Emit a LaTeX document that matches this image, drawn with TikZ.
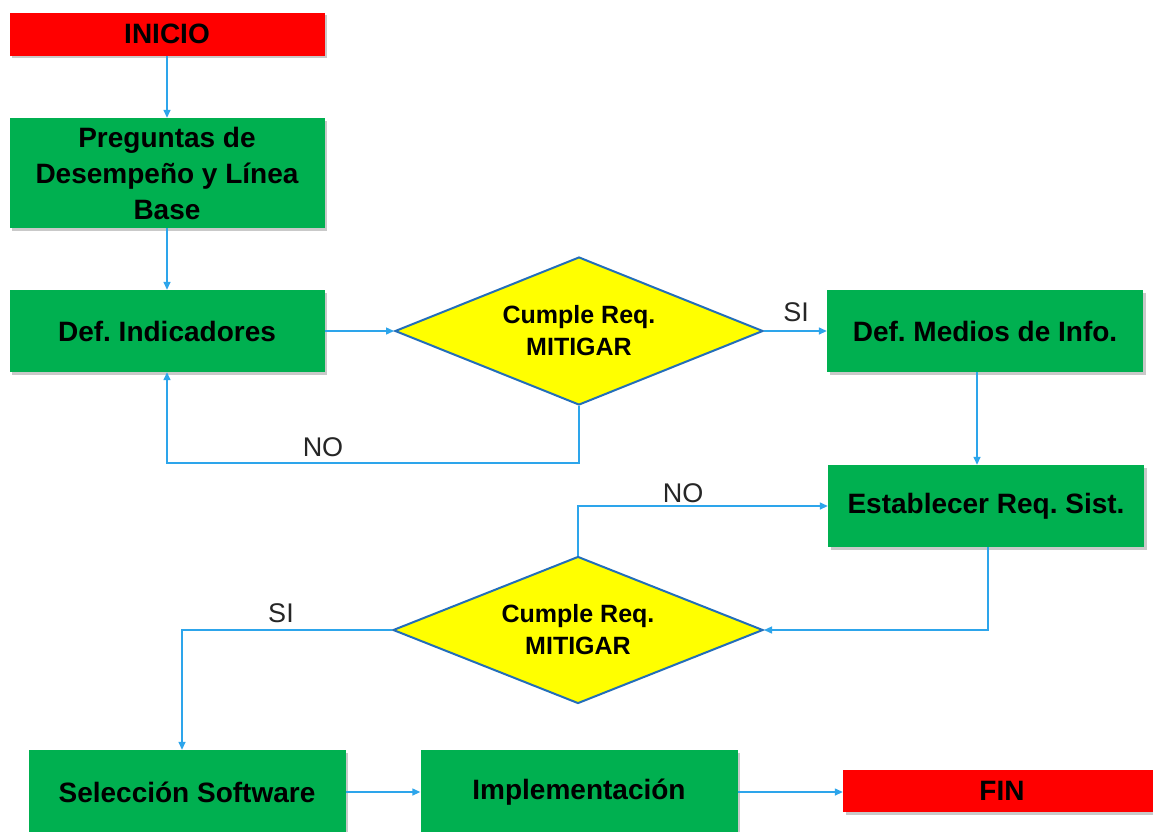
\documentclass[tikz,border=0pt]{standalone}
\usepackage{fontspec}
\setmainfont{Liberation Sans}
\usetikzlibrary{arrows.meta,shapes.geometric,shadows}
\frenchspacing

\definecolor{boxgreen}{RGB}{0,176,80}
\definecolor{boxred}{RGB}{255,0,0}
\definecolor{decyellow}{RGB}{255,255,0}
\definecolor{decborder}{RGB}{35,110,185}
\definecolor{linkblue}{RGB}{45,165,235}

\tikzset{
  procbox/.style={rectangle, fill=boxgreen, draw=none, inner sep=0pt,
    align=center, font=\fontsize{28}{36}\selectfont\bfseries,
    drop shadow={shadow xshift=2.5pt, shadow yshift=-2.5pt, opacity=0.35, fill=black!60}},
  termbox/.style={procbox, fill=boxred},
  decision/.style={diamond, aspect=2.5, fill=decyellow, draw=decborder, line width=2pt,
    inner sep=0pt, align=center, font=\fontsize{25}{32}\selectfont\bfseries},
  link/.style={draw=linkblue, line width=1.4pt,
    -{Triangle[length=8pt,width=7pt]}},
  tag/.style={font=\fontsize{27}{30}\selectfont, text=black!85}
}

\begin{document}
\begin{tikzpicture}[x=1pt,y=-1pt]
\clip (0,0) rectangle (1153,831);
\fill[white] (0,0) rectangle (1153,831);

% process steps and terminals
\node[termbox, minimum width=315pt, minimum height=43pt] (inicio) at (167,34) {INICIO};
\node[procbox, minimum width=315pt, minimum height=110pt] (preg) at (167,173)
  {Preguntas de\\Desempeño y Línea\\Base};
\node[procbox, minimum width=315pt, minimum height=82pt] (defind) at (167,331) {Def. Indicadores};
\node[decision, minimum width=368pt, minimum height=148pt] (d1) at (579,331) {Cumple Req.\\MITIGAR};
\node[procbox, minimum width=316pt, minimum height=82pt] (medios) at (985,331) {Def. Medios de Info.};
\node[procbox, minimum width=316pt, minimum height=82pt] (estab) at (986,506) {Establecer Req. Sist.};
\node[decision, minimum width=370pt, minimum height=147pt] (d2) at (578,630) {Cumple Req.\\MITIGAR};
\node[procbox, minimum width=317pt, minimum height=84pt] (selec) at (187,792) {Selección Software};
\node[procbox, minimum width=317pt, minimum height=84pt] (impl) at (579,792) {Implementación};
\node[termbox, minimum width=318pt, minimum height=42pt] (fin) at (1002,791) {FIN};

% connectors
\draw[link] (inicio.south) -- (preg.north);
\draw[link] (preg.south) -- (defind.north);
\draw[link] (defind.east) -- (d1.west);
\draw[link] (d1.south) -- ++(0,57) -| (defind.south);
\draw[link] (d1.east) -- (medios.west);
\draw[link] ([xshift=-8pt]medios.south) -- ([xshift=-9pt]estab.north);
\draw[link] ([xshift=2pt]estab.south) |- (d2.east);
\draw[link] (d2.north) |- (estab.west);
\draw[link] (d2.west) -| ([xshift=-5pt]selec.north);
\draw[link] (selec.east) -- (impl.west);
\draw[link] (impl.east) -- (fin.west |- impl.east);

% branch labels
\node[tag] (no1) at (323,447) {NO};
\node[tag] (si1) at (796,312) {SI};
\node[tag] (no2) at (683,493) {NO};
\node[tag] (si2) at (281,613) {SI};
\end{tikzpicture}
\end{document}
